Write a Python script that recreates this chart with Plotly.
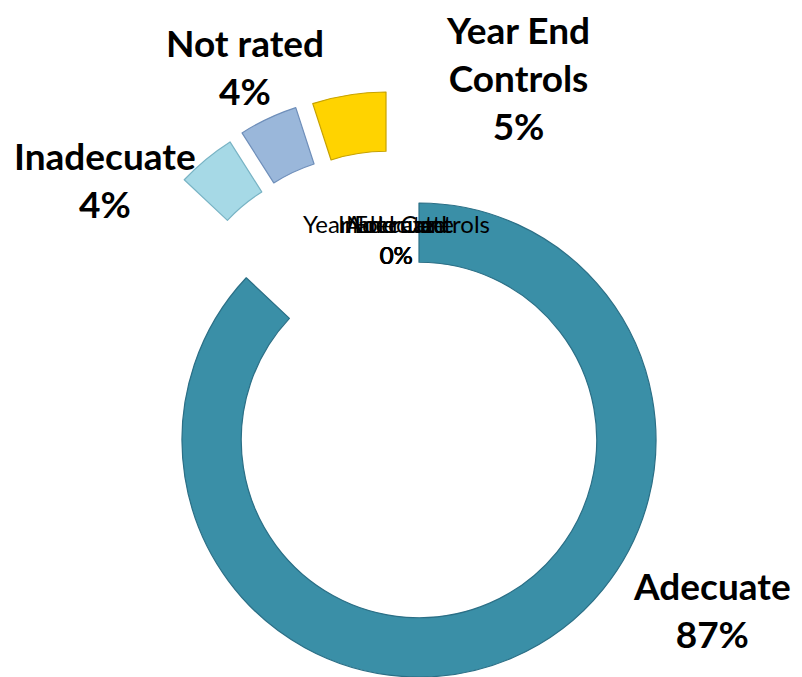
import math
import plotly.graph_objects as go

# Control ratings and their share of the total
categories = ["Adecuate", "Inadecuate", "Not rated", "Year End Controls"]
shares = [87, 4, 4, 5]
# Second (empty) series whose labels pile up near the top of the hole
inner_series = [0, 0, 0, 0]

slice_colors = ["#3A8FA7", "#A6D9E6", "#9AB7DA", "#FFD300"]
edge_colors = ["#2B6F86", "#78B3C4", "#6F8FBA", "#C7A200"]
# Exploded-slice offsets in pixels (dx, dy) from the ring centre
explode_px = [(0, 0), (-62, -98), (-50, -107), (-33, -111)]

W, H = 802, 677
CX, CY, R = 419, 440, 237
HOLE = 0.75

fig = go.Figure()

for i, name in enumerate(categories):
    dx, dy = explode_px[i]
    cx, cy = CX + dx, CY + dy
    dom = dict(
        x=[max(0, (cx - R) / W), min(1, (cx + R) / W)],
        y=[max(0, 1 - (cy + R) / H), min(1, 1 - (cy - R) / H)],
    )
    colors = [slice_colors[j] if j == i else "rgba(0,0,0,0)" for j in range(len(shares))]
    lines = [edge_colors[j] if j == i else "rgba(0,0,0,0)" for j in range(len(shares))]
    widths = [1.2 if j == i else 0 for j in range(len(shares))]
    fig.add_trace(go.Pie(
        labels=categories,
        values=shares,
        hole=HOLE,
        sort=False,
        direction="clockwise",
        rotation=0,
        textinfo="none",
        hoverinfo="skip",
        showlegend=False,
        marker=dict(colors=colors, line=dict(color=lines, width=widths)),
        domain=dom,
    ))

# Outer data labels (category + percent)
label_pos = {
    "Adecuate": (712, 609),
    "Inadecuate": (105, 180),
    "Not rated": (245, 66),
    "Year End Controls": (518, 78),
}
label_text = {
    "Adecuate": "Adecuate",
    "Inadecuate": "Inadecuate",
    "Not rated": "Not rated",
    "Year End Controls": "Year End<br>Controls",
}
for name, val in zip(categories, shares):
    px, py = label_pos[name]
    fig.add_annotation(
        x=px / W, y=1 - py / H, xref="paper", yref="paper",
        xanchor="center", yanchor="middle", showarrow=False,
        text=f"<b>{label_text[name]}<br>{val}%</b>",
        font=dict(family="Lato", size=37, color="#000000"),
        align="center",
    )

# Labels of the empty series, all stacked at the same spot
for name, val in zip(categories, inner_series):
    fig.add_annotation(
        x=396 / W, y=1 - 239 / H, xref="paper", yref="paper",
        xanchor="center", yanchor="middle", showarrow=False,
        text=f"{name}<br>{val}%",
        font=dict(family="Lato", size=24, color="#000000"),
        align="center",
    )

fig.update_layout(
    width=W, height=H,
    margin=dict(l=0, r=0, t=0, b=0),
    paper_bgcolor="white",
    plot_bgcolor="white",
)

fig.write_html("out.html")
